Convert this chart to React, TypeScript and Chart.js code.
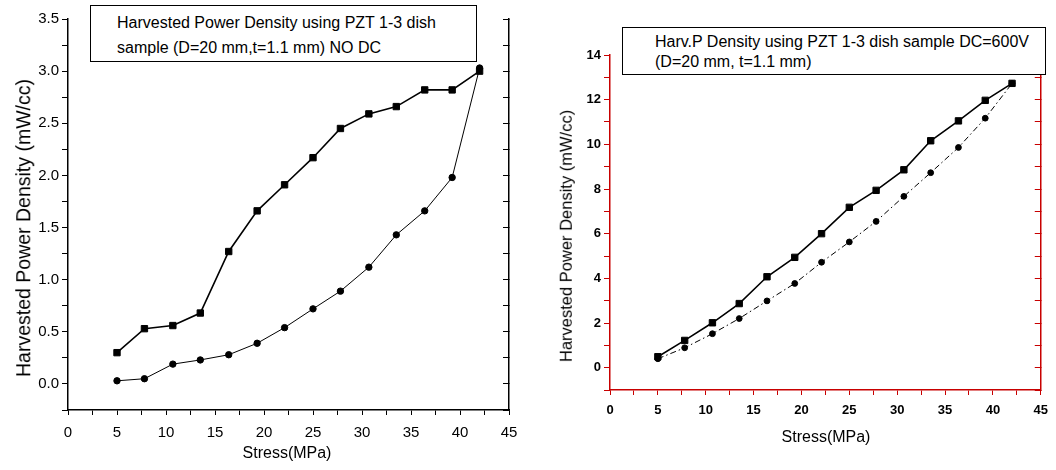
import React, { useEffect, useRef } from 'react';
import { Chart, registerables } from 'chart.js';

Chart.register(...registerables);

// ---- data ----
const stress = [5, 7.8, 10.7, 13.5, 16.4, 19.3, 22.1, 25, 27.8, 30.7, 33.5, 36.4, 39.2, 42];
const noDcSquares = [0.3, 0.53, 0.56, 0.68, 1.27, 1.66, 1.91, 2.17, 2.45, 2.59, 2.66, 2.82, 2.82, 3.0];
const noDcCircles = [0.03, 0.05, 0.19, 0.23, 0.28, 0.39, 0.54, 0.72, 0.89, 1.12, 1.43, 1.66, 1.98, 3.03];
const dcSquares = [0.49, 1.22, 2.01, 2.87, 4.07, 4.94, 6.0, 7.18, 7.94, 8.86, 10.16, 11.05, 11.97, 12.73];
const dcCircles = [0.4, 0.89, 1.52, 2.2, 2.99, 3.77, 4.72, 5.63, 6.55, 7.67, 8.73, 9.86, 11.17, 12.73];

const xTickValues = [0, 2.5, 5, 7.5, 10, 12.5, 15, 17.5, 20, 22.5, 25, 27.5, 30, 32.5, 35, 37.5, 40, 42.5, 45];
const xTickLabels = ['0', '', '5', '', '10', '', '15', '', '20', '', '25', '', '30', '', '35', '', '40', '', '45'];
const yTicksNoDc = [-0.25, 0, 0.25, 0.5, 0.75, 1, 1.25, 1.5, 1.75, 2, 2.25, 2.5, 2.75, 3, 3.25, 3.5];
const yLabelsNoDc = ['', '0.0', '', '0.5', '', '1.0', '', '1.5', '', '2.0', '', '2.5', '', '3.0', '', '3.5'];
const yTicksDc = [-1, 0, 1, 2, 3, 4, 5, 6, 7, 8, 9, 10, 11, 12, 13, 14];
const yLabelsDc = ['', '0', '', '2', '', '4', '', '6', '', '8', '', '10', '', '12', '', '14'];

const legendNoDc = ['Harvested Power Density using PZT 1-3 dish', 'sample (D=20 mm,t=1.1 mm) NO DC'];
const legendDc = ['Harv.P Density using PZT 1-3 dish sample DC=600V', '(D=20 mm, t=1.1 mm)'];
const yTitle = 'Harvested Power Density (mW/cc)';
const xTitle = 'Stress(MPa)';

const FONT = "'Liberation Sans', Arial, Helvetica, sans-serif";

function makeConfig(p: any) {
  const grid = (len: number) => ({
    display: true,
    drawOnChartArea: false,
    drawTicks: true,
    tickLength: len,
    tickColor: p.lineColor,
    color: p.lineColor,
  });
  const border = { display: true, color: p.lineColor, width: 1.5 };
  const tickFont = { family: FONT, size: p.tickSize, weight: p.tickWeight };
  return {
    type: 'line',
    data: {
      datasets: [
        {
          data: stress.map((x, i) => ({ x, y: p.circles[i] })),
          borderColor: '#000',
          borderWidth: 1,
          borderDash: p.circleDash,
          pointStyle: 'circle',
          pointRadius: p.circleRadius,
          pointBackgroundColor: '#000',
          pointBorderColor: '#000',
          pointBorderWidth: 1,
        },
        {
          data: stress.map((x, i) => ({ x, y: p.squares[i] })),
          borderColor: '#000',
          borderWidth: 1.6,
          pointStyle: 'rect',
          pointRadius: p.squareRadius,
          pointBackgroundColor: '#000',
          pointBorderColor: '#000',
          pointBorderWidth: 1,
        },
      ],
    },
    options: {
      responsive: false,
      animation: false,
      events: [],
      layout: { padding: { top: p.padTop, right: 0, left: 0, bottom: 0 } },
      plugins: { legend: { display: false }, tooltip: { enabled: false } },
      scales: {
        x: {
          type: 'linear',
          min: 0,
          max: 45,
          grid: grid(5),
          border,
          ticks: {
            color: '#000',
            padding: p.xTickPad,
            font: tickFont,
            maxRotation: 0,
            autoSkip: false,
            callback: (_v: number, i: number) => xTickLabels[i],
          },
          afterBuildTicks: (s: any) => {
            s.ticks = xTickValues.map((v) => ({ value: v }));
          },
          afterFit: (s: any) => {
            s.height = p.xHeight;
          },
        },
        y: {
          type: 'linear',
          min: p.yMin,
          max: p.yMax,
          grid: grid(6),
          border,
          ticks: {
            color: '#000',
            padding: 3,
            font: tickFont,
            autoSkip: false,
            callback: (_v: number, i: number) => p.yLabels[i],
          },
          afterBuildTicks: (s: any) => {
            s.ticks = p.yTicks.map((v: number) => ({ value: v }));
          },
          afterFit: (s: any) => {
            s.width = p.yWidth;
          },
        },
        y2: {
          type: 'linear',
          position: 'right',
          min: p.yMin,
          max: p.yMax,
          grid: grid(-6),
          border,
          ticks: { display: false, autoSkip: false },
          afterBuildTicks: (s: any) => {
            s.ticks = p.yTicks.map((v: number) => ({ value: v }));
          },
          afterFit: (s: any) => {
            s.width = p.y2Width;
          },
        },
      },
    },
  } as any;
}

export default function App() {
  const leftRef = useRef<HTMLCanvasElement | null>(null);
  const rightRef = useRef<HTMLCanvasElement | null>(null);

  useEffect(() => {
    const c1 = new Chart(
      leftRef.current as HTMLCanvasElement,
      makeConfig({
        lineColor: '#000',
        squares: noDcSquares,
        circles: noDcCircles,
        circleDash: [],
        circleRadius: 3.2,
        squareRadius: 4.5,
        padTop: 19,
        xHeight: 60,
        yWidth: 68,
        y2Width: 21,
        xTickPad: 9,
        tickSize: 15,
        tickWeight: 'normal',
        yMin: -0.25,
        yMax: 3.5,
        yTicks: yTicksNoDc,
        yLabels: yLabelsNoDc,
      })
    );
    const c2 = new Chart(
      rightRef.current as HTMLCanvasElement,
      makeConfig({
        lineColor: 'rgb(200,0,0)',
        squares: dcSquares,
        circles: dcCircles,
        circleDash: [6, 3, 1.5, 3],
        circleRadius: 2.9,
        squareRadius: 4.5,
        padTop: 55,
        xHeight: 80,
        yWidth: 80,
        y2Width: 13,
        xTickPad: 8,
        tickSize: 13,
        tickWeight: 'bold',
        yMin: -1,
        yMax: 14,
        yTicks: yTicksDc,
        yLabels: yLabelsDc,
      })
    );
    return () => {
      c1.destroy();
      c2.destroy();
    };
  }, []);

  const boxBase: React.CSSProperties = {
    position: 'absolute',
    boxSizing: 'border-box',
    border: '1.5px solid #000',
    background: '#fff',
    fontFamily: FONT,
    color: '#000',
    whiteSpace: 'nowrap',
  };
  const titleBase: React.CSSProperties = {
    position: 'absolute',
    fontFamily: FONT,
    color: '#000',
    whiteSpace: 'nowrap',
    lineHeight: 1,
  };

  return (
    <div style={{ position: 'absolute', left: 0, top: 0, width: 1056, height: 470, background: '#fff' }}>
      <canvas ref={leftRef} width={530} height={470} style={{ position: 'absolute', left: 0, top: 0 }} />
      <canvas ref={rightRef} width={526} height={470} style={{ position: 'absolute', left: 530, top: 0 }} />

      <div style={{ ...boxBase, left: 90, top: 5, width: 387, height: 57, padding: '4px 0 0 26px', fontSize: 16, lineHeight: '25px' }}>
        {legendNoDc.map((t, i) => (
          <div key={i}>{t}</div>
        ))}
      </div>
      <div style={{ ...boxBase, left: 622, top: 27, width: 424, height: 48, padding: '4px 0 0 32px', fontSize: 16, lineHeight: '20px' }}>
        {legendDc.map((t, i) => (
          <div key={i}>{t}</div>
        ))}
      </div>

      <div style={{ ...titleBase, left: 24, top: 228, fontSize: 19.5, transform: 'translate(-50%, -50%) rotate(-90deg)' }}>{yTitle}</div>
      <div style={{ ...titleBase, left: 566, top: 236, fontSize: 16.5, transform: 'translate(-50%, -50%) rotate(-90deg)' }}>{yTitle}</div>
      <div style={{ ...titleBase, left: 287, top: 453, fontSize: 16, transform: 'translate(-50%, -50%)' }}>{xTitle}</div>
      <div style={{ ...titleBase, left: 826, top: 437, fontSize: 16, transform: 'translate(-50%, -50%)' }}>{xTitle}</div>
    </div>
  );
}
